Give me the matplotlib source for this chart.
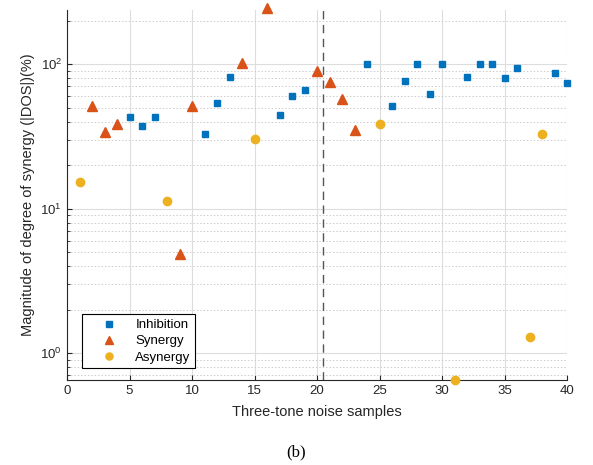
import numpy as np
import matplotlib
matplotlib.use("Agg")
from matplotlib import pyplot as plt

plt.rcParams['font.family'] = ['Liberation Sans', 'DejaVu Sans']

# Inhibition samples
inh_x = [5, 6, 7, 11, 12, 13, 17, 18, 19, 24, 26, 27, 28, 29, 30, 32, 33, 34, 35, 36, 39, 40]
inh_y = [43, 37.4, 43, 32.6, 53.5, 81, 44.4, 59.8, 66, 100, 51.2, 75.9, 100, 61.7, 100, 81, 100, 100, 80, 93.4, 87, 73.5]

# Synergy samples
syn_x = [2, 3, 4, 9, 10, 14, 16, 20, 21, 22, 23]
syn_y = [51.4, 33.8, 38.5, 4.84, 51.4, 102, 243, 89.8, 75, 57.5, 34.8]

# Asynergy samples
asy_x = [1, 8, 15, 25, 31, 37, 38]
asy_y = [15.3, 11.3, 30.4, 38.5, 0.65, 1.28, 33]

split_x = 20.5

fig = plt.figure(figsize=(5.93, 4.65), dpi=100)
ax = fig.add_axes([67/593, 1-380/465, 500/593, 370/465])

ax.plot(inh_x, inh_y, linestyle='none', marker='s', markersize=5,
        color='#0072BD', label='Inhibition', clip_on=False, zorder=3)
ax.plot(syn_x, syn_y, linestyle='none', marker='^', markersize=7,
        color='#D95319', label='Synergy', clip_on=False, zorder=3)
ax.plot(asy_x, asy_y, linestyle='none', marker='o', markersize=6,
        color='#EDB120', label='Asynergy', clip_on=False, zorder=3)
ax.axvline(split_x, color='#555555', linestyle=(0, (6, 4)), linewidth=1.0)

ax.set_yscale('log')
ax.set_xlim(0, 40)
ax.set_ylim(0.65, 237)
ax.set_xticks(np.arange(0, 41, 5))

ax.grid(True, which='major', color='#dddddd', linewidth=0.8)
ax.grid(True, which='minor', axis='y', color='#cccccc', linestyle=(0, (1.5, 2)), linewidth=0.7)
ax.set_axisbelow(True)

for s in ['top', 'right']:
    ax.spines[s].set_visible(False)
for s in ['left', 'bottom']:
    ax.spines[s].set_color('#262626')
ax.tick_params(which='both', direction='in', colors='#262626', labelsize=9.5)
ax.tick_params(which='minor', length=2)
ax.tick_params(which='major', length=3.5)

ax.set_xlabel('Three-tone noise samples', fontsize=10.5, color='#262626', labelpad=6)
ax.set_ylabel('Magnitude of degree of synergy (|DOS|)(%)', fontsize=10.5, color='#262626')

leg = ax.legend(loc='lower left', bbox_to_anchor=(0.03, 0.032), borderaxespad=0,
                fontsize=9.5, fancybox=False, framealpha=1, edgecolor='black',
                handletextpad=0.3, borderpad=0.35, labelspacing=0.3,
                handlelength=3.4, markerscale=0.85)
leg.get_frame().set_linewidth(0.8)

fig.text(0.5, 1-452/465, '(b)', ha='center', va='center', fontsize=12,
         family='Liberation Serif')

fig.savefig('out.png', dpi=100)
